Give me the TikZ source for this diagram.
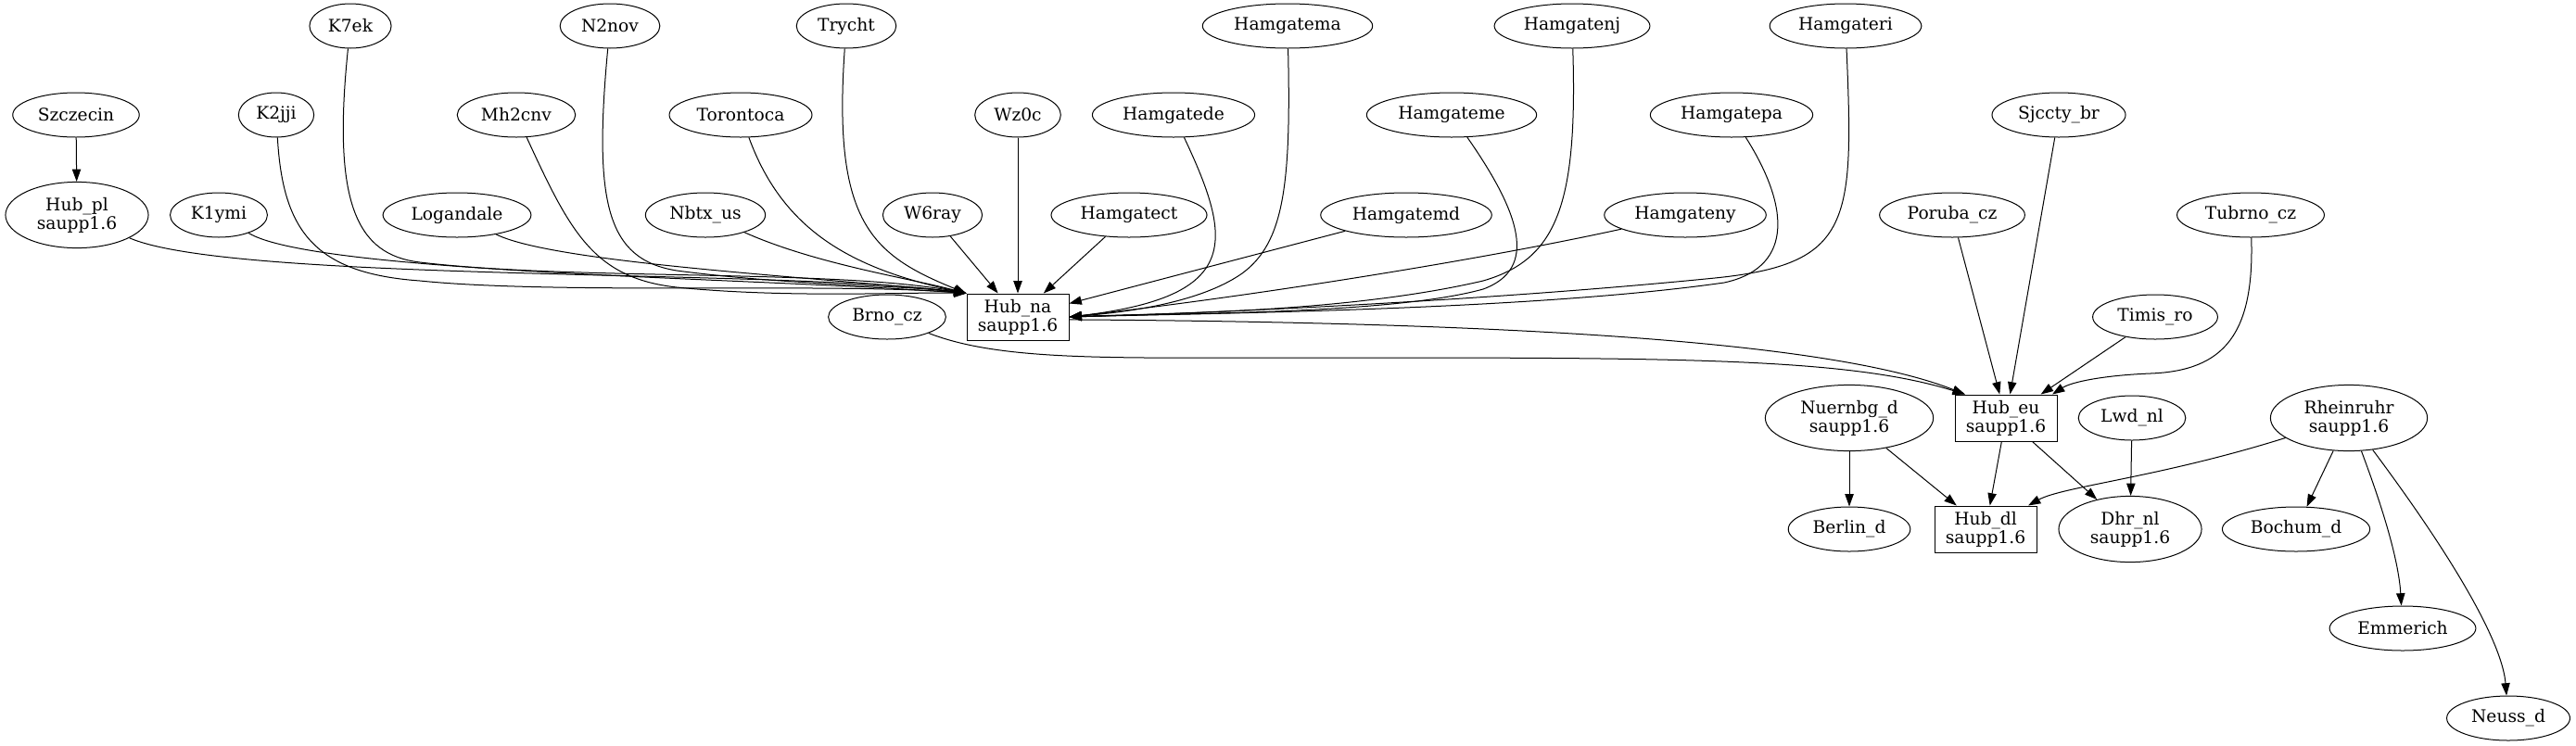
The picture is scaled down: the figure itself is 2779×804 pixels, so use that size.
\documentclass[tikz,border=0pt]{standalone}
\usepackage{fontspec}
\setmainfont{DejaVu Serif}
\usepackage{tikz}
\usetikzlibrary{arrows.meta,shapes.geometric}
\tikzset{
    %Define standard arrow tip
    >={Triangle[length=10pt,width=7pt]},
    %Define style for plain sites
    site/.style={
           ellipse,
           draw=black,
           inner xsep=5.3pt,
           inner ysep=2pt,
           minimum height=36pt,
           font=\fontsize{14pt}{15pt}\selectfont,
           align=center},
    %Define style for sites with a version line
    siteversion/.style={
           site,
           inner xsep=8.5pt,
           inner ysep=4.6pt},
    %Define style for hubs
    hub/.style={
           rectangle,
           draw=black,
           minimum width=82.5pt,
           minimum height=37.5pt,
           inner xsep=5pt,
           font=\fontsize{14pt}{15pt}\selectfont,
           align=center}
}
\begin{document}
\begin{tikzpicture}[->,x=0.75pt,y=-0.75pt,line width=0.75pt]
\useasboundingbox (0,0) rectangle (2779,804);
 %nodes
\node[site](k7ek) at (378,28){K7ek};
\node[site](n2nov) at (658,28){N2nov};
\node[site](trycht) at (913,28){Trycht};
\node[site](hamgatema) at (1389,28){Hamgatema};
\node[site](hamgatenj) at (1696,28){Hamgatenj};
\node[site](hamgateri) at (1991,28){Hamgateri};
\node[site](szczecin) at (82,124){Szczecin};
\node[site](k2jji) at (298,124){K2jji};
\node[site](mh2cnv) at (557,124){Mh2cnv};
\node[site](torontoca) at (799,124){Torontoca};
\node[site](wz0c) at (1098,124){Wz0c};
\node[site](hamgatede) at (1266,124){Hamgatede};
\node[site](hamgateme) at (1566,124){Hamgateme};
\node[site](hamgatepa) at (1868,124){Hamgatepa};
\node[site](sjcctybr) at (2221,124){Sjccty\_br};
\node[siteversion](hubpl) at (83,232){Hub\_pl\\saupp1.6};
\node[site](k1ymi) at (236,232){K1ymi};
\node[site](logandale) at (493,232){Logandale};
\node[site](nbtxus) at (761,232){Nbtx\_us};
\node[site](w6ray) at (1006,232){W6ray};
\node[site](hamgatect) at (1218,232){Hamgatect};
\node[site](hamgatemd) at (1517,232){Hamgatemd};
\node[site](hamgateny) at (1818,232){Hamgateny};
\node[site](porubacz) at (2106,232){Poruba\_cz};
\node[site](tubrnocz) at (2428,232){Tubrno\_cz};
\node[site](brnocz) at (957,342){Brno\_cz};
\node[hub](hubna) at (1098,342){Hub\_na\\saupp1.6};
\node[site](timisro) at (2325,342){Timis\_ro};
\node[siteversion](nuernbgd) at (1995,451){Nuernbg\_d\\saupp1.6};
\node[hub](hubeu) at (2164,451){Hub\_eu\\saupp1.6};
\node[site](lwdnl) at (2300,451){Lwd\_nl};
\node[siteversion](rheinruhr) at (2534,451){Rheinruhr\\saupp1.6};
\node[site](berlind) at (1995,571){Berlin\_d};
\node[hub](hubdl) at (2142,571){Hub\_dl\\saupp1.6};
\node[siteversion](dhrnl) at (2298,571){Dhr\_nl\\saupp1.6};
\node[site](bochumd) at (2477,571){Bochum\_d};
\node[site](emmerich) at (2592,678){Emmerich};
\node[site](neussd) at (2706,775){Neuss\_d};
 %straight links
\path
    (szczecin) edge (hubpl)
    (w6ray) edge (hubna)
    (wz0c) edge (hubna)
    (hamgatect) edge (hubna)
    (hamgatemd) edge (hubna)
    (porubacz) edge (hubeu)
    (sjcctybr) edge (hubeu)
    (timisro) edge (hubeu)
    (hubeu) edge (hubdl) edge (dhrnl)
    (nuernbgd) edge (berlind) edge (hubdl)
    (lwdnl) edge (dhrnl)
    (rheinruhr) edge (bochumd);
 %links into the left corner of Hub_na
\draw (hubpl) .. controls (250,305) and (850,290) .. (hubna.north west);
\draw (k1ymi) .. controls (340,295) and (820,300) .. (hubna.north west);
\draw (k2jji) .. controls (305,250) and (340,295) .. (453,303)
    .. controls (600,318) and (900,305) .. (hubna.north west);
\draw (k7ek) .. controls (358,220) and (385,275) .. (453,283)
    .. controls (620,303) and (900,290) .. (hubna.north west);
\draw (logandale) .. controls (600,285) and (900,300) .. (hubna.north west);
\draw (mh2cnv) .. controls (615,250) and (640,300) .. (730,310)
    .. controls (850,322) and (980,315) .. (hubna.north west);
\draw (n2nov) .. controls (640,220) and (655,280) .. (730,292)
    .. controls (850,308) and (980,308) .. (hubna.north west);
\draw (nbtxus) .. controls (880,285) and (980,300) .. (hubna.north west);
\draw (torontoca) .. controls (845,250) and (920,290) .. (hubna.north west);
\draw (trycht) .. controls (898,240) and (940,275) .. (hubna.north west);
 %links into the right side of Hub_na
\draw (hamgateny) .. controls (1600,280) and (1350,320) .. (hubna.east);
\draw (hamgatede) .. controls (1330,260) and (1340,320) .. (hubna.east);
\draw (hamgatema) .. controls (1393,200) and (1385,262) .. (1340,295)
    .. controls (1290,330) and (1200,338) .. (hubna.east);
\draw (hamgateme) .. controls (1640,230) and (1660,290) .. (1600,312)
    .. controls (1500,340) and (1250,338) .. (hubna.east);
\draw (hamgatenj) .. controls (1702,220) and (1680,280) .. (1600,303)
    .. controls (1450,338) and (1250,338) .. (hubna.east);
\draw (hamgatepa) .. controls (1935,230) and (1930,290) .. (1860,305)
    .. controls (1650,335) and (1300,338) .. (hubna.east);
\draw (hamgateri) .. controls (2000,240) and (1998,285) .. (1850,300)
    .. controls (1600,325) and (1300,338) .. (hubna.east);
 %links into Hub_eu
\draw (hubna.-3) .. controls (1650,348) and (1980,370) .. (hubeu.150);
\draw (brnocz) .. controls (1080,390) and (1200,386) .. (1400,386)
    .. controls (1800,386) and (1990,385) .. (hubeu.150);
\draw (tubrnocz) .. controls (2432,360) and (2400,400) .. (2320,403)
    .. controls (2270,405) and (2235,412) .. (hubeu.27);
 %links out of Rheinruhr
\draw (rheinruhr) .. controls (2330,515) and (2225,525) .. (hubdl.29);
\draw (rheinruhr) .. controls (2575,560) and (2588,610) .. (emmerich);
\draw (rheinruhr) .. controls (2660,620) and (2700,700) .. (neussd);
\end{tikzpicture}
\end{document}
